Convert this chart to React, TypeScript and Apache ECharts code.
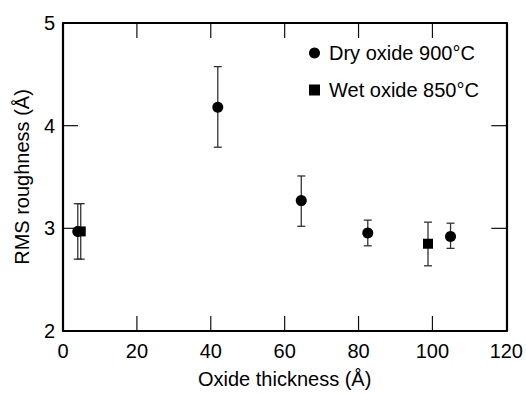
import React, { useEffect, useRef } from "react";
import * as echarts from "echarts";

const dryX = [4.0, 41.9, 64.5, 82.5, 104.9];
const dryY = [2.97, 4.18, 3.27, 2.955, 2.92];
const dryLow = [2.7, 3.79, 3.02, 2.83, 2.805];
const dryHigh = [3.24, 4.575, 3.51, 3.08, 3.05];

const wetX = [4.8, 98.8];
const wetY = [2.97, 2.85];
const wetLow = [2.7, 2.635];
const wetHigh = [3.24, 3.06];

const xTicks = [0, 20, 40, 60, 80, 100, 120];
const yTicks = [2, 3, 4, 5];
const xInnerTicks = [20, 40, 60, 80, 100];
const yInnerTicks = [3, 4];

const FONT = "Liberation Sans, Arial, Helvetica, sans-serif";
const FS = 20;

export default function App() {
  const ref = useRef<HTMLDivElement>(null);
  useEffect(() => {
    if (!ref.current) return;
    const chart = echarts.init(ref.current, undefined, { renderer: "svg" });

    const errData = [
      ...dryX.map((x, i) => [x, dryLow[i], dryHigh[i]]),
      ...wetX.map((x, i) => [x, wetLow[i], wetHigh[i]]),
    ];

    const tickData = [
      ...xInnerTicks.map((v) => [v, 2, 0]),
      ...yInnerTicks.map((v) => [0, v, 1]),
    ];

    const mkAxisLine = () => ({ show: true, onZero: false, lineStyle: { color: "#000", width: 2.2 } });

    chart.setOption({
      animation: false,
      textStyle: { fontFamily: FONT },
      grid: { left: 63, right: 17, top: 23, bottom: 59 },
      legend: {
        orient: "vertical",
        left: 309,
        top: 43,
        padding: 0,
        itemGap: 17,
        itemWidth: 11,
        itemHeight: 11,
        textStyle: { fontSize: FS, color: "#000", fontFamily: FONT, padding: [0, 0, 0, 4] },
        data: [
          { name: "Dry oxide 900°C", icon: "circle" },
          { name: "Wet oxide 850°C", icon: "rect" },
        ],
      },
      xAxis: [
        {
          type: "value",
          position: "bottom",
          min: 0,
          max: 120,
          interval: 20,
          name: "Oxide thickness (Å)",
          nameLocation: "middle",
          nameGap: 38,
          nameTextStyle: { fontSize: FS, color: "#000", fontFamily: FONT },
          axisLabel: { fontSize: FS, color: "#000", margin: 10, fontFamily: FONT,
            formatter: (v: number) => (xTicks.includes(v) ? String(v) : "") },
          axisLine: mkAxisLine(),
          axisTick: { show: false },
          splitLine: { show: false },
        },
        {
          type: "value",
          position: "top",
          min: 0,
          max: 120,
          interval: 20,
          axisLabel: { show: false },
          axisLine: mkAxisLine(),
          axisTick: { show: false },
          splitLine: { show: false },
        },
      ],
      yAxis: [
        {
          type: "value",
          position: "left",
          min: 2,
          max: 5,
          interval: 1,
          name: "RMS roughness (Å)",
          nameLocation: "middle",
          nameGap: 31,
          nameTextStyle: { fontSize: FS, color: "#000", fontFamily: FONT },
          axisLabel: { fontSize: FS, color: "#000", margin: 8, fontFamily: FONT,
            formatter: (v: number) => (yTicks.includes(v) ? String(v) : "") },
          axisLine: mkAxisLine(),
          axisTick: { show: false },
          splitLine: { show: false },
        },
        {
          type: "value",
          position: "right",
          min: 2,
          max: 5,
          interval: 1,
          axisLabel: { show: false },
          axisLine: mkAxisLine(),
          axisTick: { show: false },
          splitLine: { show: false },
        },
      ],
      series: [
        {
          type: "custom",
          name: "ticks",
          z: 0,
          silent: true,
          data: tickData,
          renderItem: (params: any, api: any) => {
            const cs = params.coordSys;
            const p = api.coord([api.value(0), api.value(1)]);
            const kind = api.value(2);
            const L = 15;
            const style = { stroke: "#111", lineWidth: 1.2 };
            if (kind === 0) {
              const top = cs.y;
              const bottom = cs.y + cs.height;
              return {
                type: "group",
                children: [
                  { type: "line", shape: { x1: p[0], y1: bottom, x2: p[0], y2: bottom - L }, style },
                  { type: "line", shape: { x1: p[0], y1: top, x2: p[0], y2: top + L }, style },
                ],
              };
            }
            const left = cs.x;
            const right = cs.x + cs.width;
            return {
              type: "group",
              children: [
                { type: "line", shape: { x1: left, y1: p[1], x2: left + L, y2: p[1] }, style },
                { type: "line", shape: { x1: right, y1: p[1], x2: right - L, y2: p[1] }, style },
              ],
            };
          },
        },
        {
          type: "custom",
          name: "err",
          z: 1,
          silent: true,
          data: errData,
          renderItem: (params: any, api: any) => {
            const x = api.value(0);
            const lo = api.coord([x, api.value(1)]);
            const hi = api.coord([x, api.value(2)]);
            const cap = 4;
            const style = { stroke: "#333", lineWidth: 1.3 };
            return {
              type: "group",
              children: [
                { type: "line", shape: { x1: lo[0], y1: lo[1], x2: hi[0], y2: hi[1] }, style },
                { type: "line", shape: { x1: lo[0] - cap, y1: lo[1], x2: lo[0] + cap, y2: lo[1] }, style },
                { type: "line", shape: { x1: hi[0] - cap, y1: hi[1], x2: hi[0] + cap, y2: hi[1] }, style },
              ],
            };
          },
        },
        {
          type: "scatter",
          name: "Dry oxide 900°C",
          symbol: "circle",
          symbolSize: 11,
          z: 3,
          itemStyle: { color: "#000", opacity: 1 },
          data: dryX.map((x, i) => [x, dryY[i]]),
        },
        {
          type: "scatter",
          name: "Wet oxide 850°C",
          symbol: "rect",
          symbolSize: 10,
          z: 3,
          itemStyle: { color: "#000", opacity: 1 },
          data: wetX.map((x, i) => [x, wetY[i]]),
        },
      ],
    });
    return () => chart.dispose();
  }, []);
  return (
    <div
      ref={ref}
      style={{ position: "absolute", left: 0, top: 0, width: 526, height: 394 }}
    />
  );
}
